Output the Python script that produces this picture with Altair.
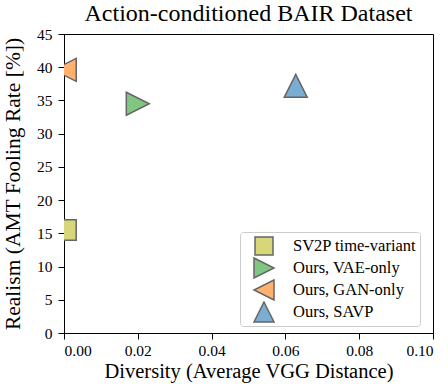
import altair as alt
import pandas as pd

# Model results: diversity (average VGG distance) vs. realism (AMT fooling rate, %)
models = ["SV2P time-variant", "Ours, VAE-only", "Ours, GAN-only", "Ours, SAVP"]
diversity = [0.0005, 0.0200, 0.0002, 0.0628]
realism = [15.5, 34.5, 39.6, 37.2]

fill_colors = ["#d7d77a", "#80c680", "#ffb26e", "#79add2"]
# marker outlines in a [-1, 1] box: square, right, left and up triangles
marker_paths = [
    "M-0.9,-0.9L0.9,-0.9L0.9,0.9L-0.9,0.9Z",
    "M-1,-1L1,0L-1,1Z",
    "M1,-1L-1,0L1,1Z",
    "M0,-1L1,1L-1,1Z",
]

df = pd.DataFrame({"model": models, "diversity": diversity, "realism": realism})

FONT = "Liberation Serif"

legend = alt.Legend(title=None, orient="none", legendX=176, legendY=198,
                    symbolSize=400, clipHeight=22)

chart = (
    alt.Chart(df, title=alt.Title("Action-conditioned BAIR Dataset",
                                  frame="group", offset=1))
    .mark_point(filled=True, size=529, opacity=1, stroke="#666666",
                strokeWidth=1.5, clip=True)
    .encode(
        x=alt.X("diversity:Q",
                scale=alt.Scale(domain=[0, 0.10], nice=False, zero=False),
                axis=alt.Axis(title="Diversity (Average VGG Distance)",
                              values=[0, 0.02, 0.04, 0.06, 0.08, 0.10],
                              format=".2f", labelFont=FONT, titleFont=FONT,
                              titleFontSize=20.5)),
        y=alt.Y("realism:Q",
                scale=alt.Scale(domain=[0, 45], nice=False),
                axis=alt.Axis(title="Realism (AMT Fooling Rate [%])",
                              values=list(range(0, 50, 5)),
                              labelFont=FONT, titleFont=FONT,
                              titleFontSize=21.5)),
        color=alt.Color("model:N",
                        scale=alt.Scale(domain=models, range=fill_colors),
                        legend=legend),
        shape=alt.Shape("model:N",
                        scale=alt.Scale(domain=models, range=marker_paths),
                        legend=legend),
    )
    .properties(
        width=369,
        height=299,
        autosize=alt.AutoSizeParams(type="none"),
        padding={"left": 64, "top": 34, "right": 15, "bottom": 51},
    )
    .configure(font=FONT)
    .configure_view(stroke="black", strokeWidth=1)
    .configure_title(font=FONT, fontSize=24, fontWeight="normal",
                     color="black", anchor="middle")
    .configure_axis(
        labelFont=FONT, labelFontSize=15.5, labelColor="black",
        titleFont=FONT, titleFontWeight="normal",
        titleColor="black", domainColor="black", domainWidth=1,
        tickColor="black", tickSize=6, tickWidth=1, grid=False,
        zindex=1,
    )
    .configure_axisX(labelPadding=4, titlePadding=3)
    .configure_axisY(labelPadding=6, titlePadding=12)
    .configure_legend(
        labelFont=FONT, labelFontSize=16.5, labelColor="black",
        symbolSize=400, symbolStrokeColor="#666666", symbolStrokeWidth=1.5,
        symbolOffset=10, labelOffset=18, rowPadding=0, padding=3,
        strokeColor="#cccccc", fillColor="rgba(255,255,255,0.8)",
        cornerRadius=3,
    )
)

chart.save("out.html", embed_options={"renderer": "svg", "actions": False})
